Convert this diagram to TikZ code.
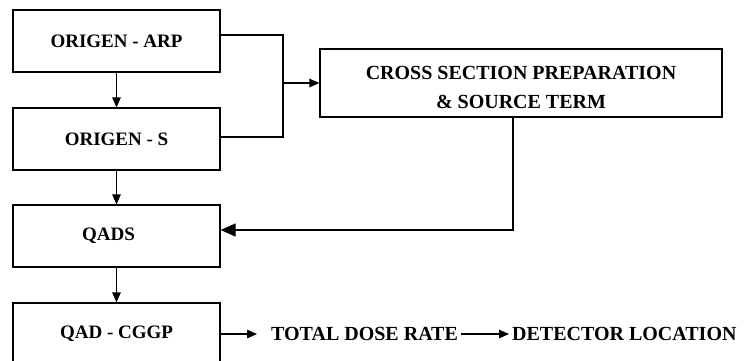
\documentclass[tikz,border=0pt]{standalone}
\usepackage{fontspec}
\setmainfont{Liberation Serif}
\usetikzlibrary{arrows.meta}

\tikzset{
  box/.style={draw, line width=1.2pt, minimum width=207pt, minimum height=62pt,
    inner sep=0pt, font=\bfseries\fontsize{19}{28}\selectfont},
  flow/.style={line width=1.2pt, -{Triangle[length=10pt,width=8.5pt]}},
  bigflow/.style={line width=1.2pt, -{Triangle[length=15pt,width=13pt]}},
  result/.style={inner sep=3pt, font=\bfseries\fontsize{20}{24}\selectfont}
}

\begin{document}
\begin{tikzpicture}[x=1pt,y=1pt]
      \useasboundingbox (0,0) rectangle (744,360);

      % program chain
      \node [box] (arp)  at (116.5,319) {ORIGEN - ARP};
      \node [box] (ors)  at (116.5,221) {ORIGEN - S};
      \node [box] (qads) at (116.5,124) {QADS\hspace*{16pt}};
      \node [box] (cggp) at (116.5,26)  {QAD - CGGP};

      \node [box, minimum width=402pt, minimum height=68pt] (xsec) at (521,277) {};
      \node [align=center, font=\bfseries\fontsize{20}{29}\selectfont] (xsectext)
            at ([yshift=-4pt]xsec.center) {CROSS SECTION PREPARATION\\ \& SOURCE TERM};

      \draw [flow] (arp) -- (ors);
      \draw [flow] (ors) -- (qads);
      \draw [flow] (qads) -- (cggp);

      % merge into cross section box
      \coordinate (merge) at (283,277);
      \draw [line width=1.2pt] ([yshift=6pt]arp.east) -| (merge);
      \draw [line width=1.2pt] ([yshift=2pt]ors.east) -| (merge);
      \draw [flow] (merge) -- (xsec.west);

      % feedback to QADS
      \coordinate (turn) at (513,130);
      \draw [bigflow] (turn |- xsec.south) -- (turn) -- (turn -| qads.east);

      % output
      \node [result, anchor=west] (dose) at (268,26) {TOTAL DOSE RATE};
      \node [result, anchor=west] (detector) at (509,26) {DETECTOR LOCATION};
      \draw [flow] (cggp.east) -- ([xshift=-11pt]dose.west);
      \draw [flow] (dose) -- (detector);
\end{tikzpicture}
\end{document}
